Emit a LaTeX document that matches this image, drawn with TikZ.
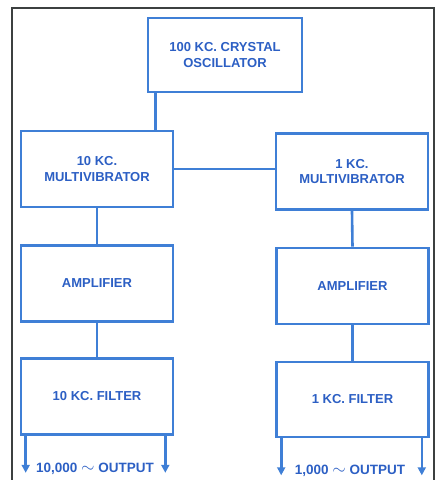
\documentclass[tikz,border=0pt]{standalone}
\usepackage{fontspec}
\setmainfont{Liberation Sans}
\usetikzlibrary{arrows.meta,calc,positioning}
\definecolor{wire}{HTML}{3F7FD6}
\definecolor{ink}{HTML}{2C5FC4}
\definecolor{frame}{HTML}{3C4040}
\tikzset{
  block/.style={
    draw=wire,
    line width=2.6pt,
    minimum width=152pt,
    minimum height=76pt,
    align=center,
    text=ink,
    fill=white,
    font=\bfseries\fontsize{13}{15.5}\selectfont
  },
  link/.style={
    draw=wire,
    line width=2.6pt
  },
  outarrow/.style={
    -{Triangle[length=8pt,width=8pt]},
    draw=wire,
    line width=2.6pt
  },
  outlabel/.style={
    text=ink,
    font=\bfseries\fontsize{13.5}{14}\selectfont,
    anchor=base
  }
}

\begin{document}
\begin{tikzpicture}[x=1pt,y=-1pt]
  \useasboundingbox (0,0) rectangle (437,480);

  % Outer frame
  \draw[frame,line width=2pt] (12,480) -- (12,8) -- (434,8) -- (434,480);

  % Blocks
  \node[block,minimum width=154pt,minimum height=74pt] (osc) at (225,55)
    {100 KC. CRYSTAL\\OSCILLATOR};

  \node[block] (mvTen) at (97,169) {10 KC.\\MULTIVIBRATOR};
  \node[block] (mvOne) at (352,171.5) {1 KC.\\MULTIVIBRATOR};

  \node[block] (ampTen) at (97,283.5) {AMPLIFIER};
  \node[block] (ampOne) at (352.5,286) {AMPLIFIER};

  \node[block] (filTen) at (97,396.5) {10 KC. FILTER};
  \node[block,minimum height=75pt] (filOne) at (352.5,399.5) {1 KC. FILTER};

  % Chain connections
  \draw[link] ([xshift=9pt]osc.south west) -- ([xshift=9pt]osc.south west |- mvTen.north);
  \draw[link] (mvTen.east) -- (mvTen.east -| mvOne.west);
  \draw[link] (mvTen.south) -- (ampTen.north);
  \draw[link] (ampTen.south) -- (filTen.north);
  \draw[link] (mvOne.south) -- (ampOne.north);
  \draw[link] (ampOne.south) -- (filOne.north);

  % Output leads
  \coordinate (tenL) at ([xshift=6pt,yshift=-37pt]filTen.south west);
  \coordinate (tenR) at ([xshift=-9pt,yshift=-37pt]filTen.south east);
  \coordinate (oneL) at ([xshift=6pt,yshift=-37pt]filOne.south west);
  \coordinate (oneR) at ([xshift=-8pt,yshift=-37pt]filOne.south east);

  \draw[outarrow] ([xshift=6pt]filTen.south west) -- (tenL);
  \draw[outarrow] ([xshift=-9pt]filTen.south east) -- (tenR);
  \draw[outarrow] ([xshift=6pt]filOne.south west) -- (oneL);
  \draw[outarrow] ([xshift=-8pt]filOne.south east) -- (oneR);

  \node[outlabel] (outTen) at (95,472)
    {10,000 {\fontsize{18}{18}\selectfont$\sim$} OUTPUT};
  \node[outlabel] (outOne) at (350,474)
    {1,000 {\fontsize{18}{18}\selectfont$\sim$} OUTPUT};
\end{tikzpicture}
\end{document}
